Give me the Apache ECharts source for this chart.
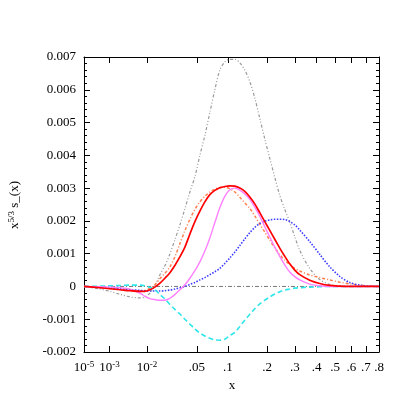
<!DOCTYPE html>
<html><head><meta charset="utf-8">
<script src="https://cdn.jsdelivr.net/npm/echarts@6/dist/echarts.min.js"></script>
<style>html,body{margin:0;padding:0;background:#fff}#c{width:402px;height:393px}</style>
</head><body><div id="c"></div>
<script>
// x sample positions (data units)
const xs = [1e-5, 3.5e-4, 0.00104, 0.0023, 0.0043, 0.0072, 0.0091, 0.0113, 0.0137, 0.0166, 0.0197, 0.0233, 0.0272, 0.0316, 0.0365, 0.0418, 0.0476, 0.0539, 0.0607, 0.0681, 0.0761, 0.0846, 0.0938, 0.1037, 0.1142, 0.1254, 0.1372, 0.1499, 0.1632, 0.1774, 0.1923, 0.2081, 0.2247, 0.2421, 0.2605, 0.2797, 0.2999, 0.321, 0.3661, 0.4153, 0.4687, 0.5265, 0.5889, 0.656, 0.728, 0.8];

const grayVals = [0, -0.00008, -0.00015, -0.00024, -0.00032, -0.00035, -0.00032, -0.0002, 0.00002, 0.00036, 0.00063, 0.00099, 0.00142, 0.00187, 0.00237, 0.00288, 0.00335, 0.004, 0.0046, 0.0053, 0.006, 0.0066, 0.00685, 0.00693, 0.00693, 0.00682, 0.0066, 0.00625, 0.00575, 0.00513, 0.0045, 0.00391, 0.00333, 0.00278, 0.00235, 0.00196, 0.00152, 0.0011, 0.00055, 0.00021, 0.00006, 0.00001, 0, 0, 0, 0];
const redVals = [0, -0.00004, -0.00007, -0.0001, -0.00013, -0.00015, -0.00015, -0.0001, -0.00002, 0.0001, 0.00025, 0.00042, 0.00064, 0.0009, 0.0012, 0.0016, 0.00198, 0.0023, 0.00258, 0.0028, 0.00293, 0.00301, 0.00305, 0.00307, 0.00306, 0.003, 0.0029, 0.00273, 0.00252, 0.00225, 0.00198, 0.00171, 0.00144, 0.00117, 0.00092, 0.00069, 0.0005, 0.00036, 0.00019, 0.00009, 0.00003, 0.00001, 0, 0, 0, 0];
const magentaVals = [0, -0.00001, -0.00002, -0.00004, -0.00008, -0.0002, -0.0003, -0.00037, -0.0004, -0.00042, -0.00042, -0.00036, -0.00025, -0.0001, 0.00005, 0.00025, 0.00048, 0.00075, 0.00108, 0.00148, 0.00195, 0.0024, 0.00275, 0.00295, 0.003, 0.00294, 0.00282, 0.00266, 0.00242, 0.00214, 0.00182, 0.00151, 0.0012, 0.00092, 0.00066, 0.00044, 0.0003, 0.0002, 0.00007, 0.00002, 0, 0, 0, 0, 0, 0];
const orangeVals = [0, -0.00003, -0.00006, -0.00009, -0.00012, -0.00013, -0.00012, -0.00005, 0.00005, 0.00024, 0.0004, 0.0006, 0.0009, 0.0013, 0.0017, 0.00205, 0.00235, 0.00258, 0.00275, 0.00288, 0.00297, 0.00302, 0.00303, 0.00298, 0.00288, 0.00272, 0.00255, 0.00238, 0.00215, 0.0019, 0.00166, 0.00141, 0.00118, 0.00097, 0.0008, 0.00067, 0.00055, 0.00047, 0.00035, 0.00027, 0.0002, 0.00013, 0.00008, 0.00004, 0.00001, 0];
const blueVals = [0, -0.00003, -0.00005, -0.00007, -0.0001, -0.00012, -0.00013, -0.00014, -0.00014, -0.00014, -0.00013, -0.00011, -0.00008, -0.00004, 0, 0.00006, 0.00012, 0.0002, 0.00027, 0.00036, 0.00045, 0.00055, 0.0007, 0.00087, 0.00105, 0.00125, 0.00145, 0.00164, 0.0018, 0.00192, 0.00199, 0.00203, 0.00205, 0.00205, 0.00204, 0.00198, 0.00188, 0.00172, 0.00137, 0.00098, 0.0006, 0.00031, 0.00012, 0.00004, 0.00001, 0];
const cyanVals = [0, 0.00001, 0.00002, 0.00003, 0.00004, 0.00004, 0.00002, -0.00003, -0.0001, -0.00025, -0.00038, -0.00055, -0.0007, -0.00084, -0.001, -0.00115, -0.0013, -0.00142, -0.00151, -0.00158, -0.00163, -0.00164, -0.00161, -0.0015, -0.0014, -0.00122, -0.00103, -0.00085, -0.00068, -0.00053, -0.00042, -0.00032, -0.00023, -0.00016, -0.00011, -0.00008, -0.00005, -0.00004, -0.00002, -0.00001, 0, 0, 0, 0, 0, 0];

const xTickValues = [1e-5, 1e-3, 1e-2, 0.05, 0.1, 0.2, 0.3, 0.4, 0.5, 0.6, 0.7, 0.8];
const xTickLabels = ['10^-5', '10^-3', '10^-2', '.05', '.1', '.2', '.3', '.4', '.5', '.6', '.7', '.8'];
const yMin = -0.002, yMax = 0.007, yStep = 0.001;

// x axis is drawn on a cube-root scale
const tr = Math.cbrt;
const xMin = tr(xTickValues[0]), xMax = tr(xTickValues[xTickValues.length - 1]);
const tickPos = xTickValues.map(tr);
function pts(ys) { return xs.map((x, i) => [tr(x), ys[i]]); }
function fmtX(v) {
  let best = 0;
  tickPos.forEach((p, i) => { if (Math.abs(p - v) < Math.abs(tickPos[best] - v)) best = i; });
  const s = xTickLabels[best];
  if (s.startsWith('10^')) return '{b|10}{s|' + s.slice(3) + '}';
  return '{b|' + s + '}';
}
const FONT = '"Liberation Serif", "DejaVu Serif", serif';

const chart = echarts.init(document.getElementById('c'), null, { renderer: 'canvas' });
function line(name, ys, color, width, type) {
  return {
    name, type: 'line', data: pts(ys), showSymbol: false, smooth: 0.3,
    lineStyle: { color, width, type }, itemStyle: { color }, animation: false, z: 3
  };
}
chart.setOption({
  animation: false,
  backgroundColor: '#fff',
  grid: { left: 84, top: 57, right: 23, bottom: 41, containLabel: false, outerBoundsMode: 'none' },
  xAxis: [
    {
      type: 'value', min: xMin, max: xMax, position: 'bottom',
      axisLine: { show: true, onZero: false, lineStyle: { color: '#000', width: 1 } },
      axisTick: { show: true, inside: true, length: 6, customValues: tickPos, lineStyle: { color: '#000' } },
      axisLabel: {
        show: true, customValues: tickPos, formatter: fmtX, margin: 8, color: '#000',
        rich: {
          b: { fontFamily: FONT, fontSize: 13, color: '#000', lineHeight: 16 },
          s: { fontFamily: FONT, fontSize: 9, color: '#000', verticalAlign: 'top', lineHeight: 10 }
        }
      },
      splitLine: { show: false }
    },
    {
      type: 'value', min: xMin, max: xMax, position: 'top',
      axisLine: { show: true, onZero: false, lineStyle: { color: '#000', width: 1 } },
      axisTick: { show: true, inside: true, length: 6, customValues: tickPos, lineStyle: { color: '#000' } },
      axisLabel: { show: false },
      splitLine: { show: false }
    }
  ],
  yAxis: [
    {
      type: 'value', min: yMin, max: yMax, interval: yStep, position: 'left',
      axisLine: { show: true, onZero: false, lineStyle: { color: '#000', width: 1 } },
      axisTick: { show: true, inside: true, length: 6, lineStyle: { color: '#000' } },
      minorTick: { show: true, splitNumber: 5, length: 3, lineStyle: { color: '#000' } },
      axisLabel: {
        color: '#000', fontFamily: FONT, fontSize: 13, margin: 8,
        formatter: v => Math.abs(v) < 1e-12 ? '0' : v.toFixed(3)
      },
      splitLine: { show: false }
    },
    {
      type: 'value', min: yMin, max: yMax, interval: yStep, position: 'right',
      axisLine: { show: true, onZero: false, lineStyle: { color: '#000', width: 1 } },
      axisTick: { show: true, inside: true, length: 6, lineStyle: { color: '#000' } },
      minorTick: { show: true, splitNumber: 5, length: 3, lineStyle: { color: '#000' } },
      axisLabel: { show: false },
      splitLine: { show: false }
    }
  ],
  series: [
    {
      name: 'zero', type: 'line', data: [[xMin, 0], [xMax, 0]], showSymbol: false,
      lineStyle: { color: '#777', width: 1, type: [4, 2, 1, 2] }, z: 2, animation: false
    },
    line('gray', grayVals, '#999999', 1.2, [3, 2, 1, 2, 1, 2]),
    line('orange', orangeVals, '#ff7f50', 1.5, [3, 2, 1, 2]),
    line('blue', blueVals, '#3b3bff', 1.6, [1.5, 1.5]),
    line('cyan', cyanVals, '#2ee6ea', 1.6, [5, 3]),
    line('magenta', magentaVals, '#ff80ff', 1.4, 'solid'),
    line('red', redVals, '#ff0000', 1.7, 'solid')
  ],
  graphic: [
    {
      type: 'text', x: 232, y: 386, silent: true,
      style: { text: 'x', fontFamily: FONT, fontSize: 13, fill: '#000', align: 'center', verticalAlign: 'middle' }
    },
    {
      type: 'text', x: 15, y: 205, rotation: Math.PI / 2, silent: true,
      style: {
        text: '{n|x}{s|5/3}{n| s_(x)}', align: 'center', verticalAlign: 'middle', fill: '#000',
        rich: {
          n: { fontFamily: FONT, fontSize: 13, fill: '#000', lineHeight: 16 },
          s: { fontFamily: FONT, fontSize: 9, fill: '#000', verticalAlign: 'top', lineHeight: 10 }
        }
      }
    }
  ]
});
</script>
</body></html>
